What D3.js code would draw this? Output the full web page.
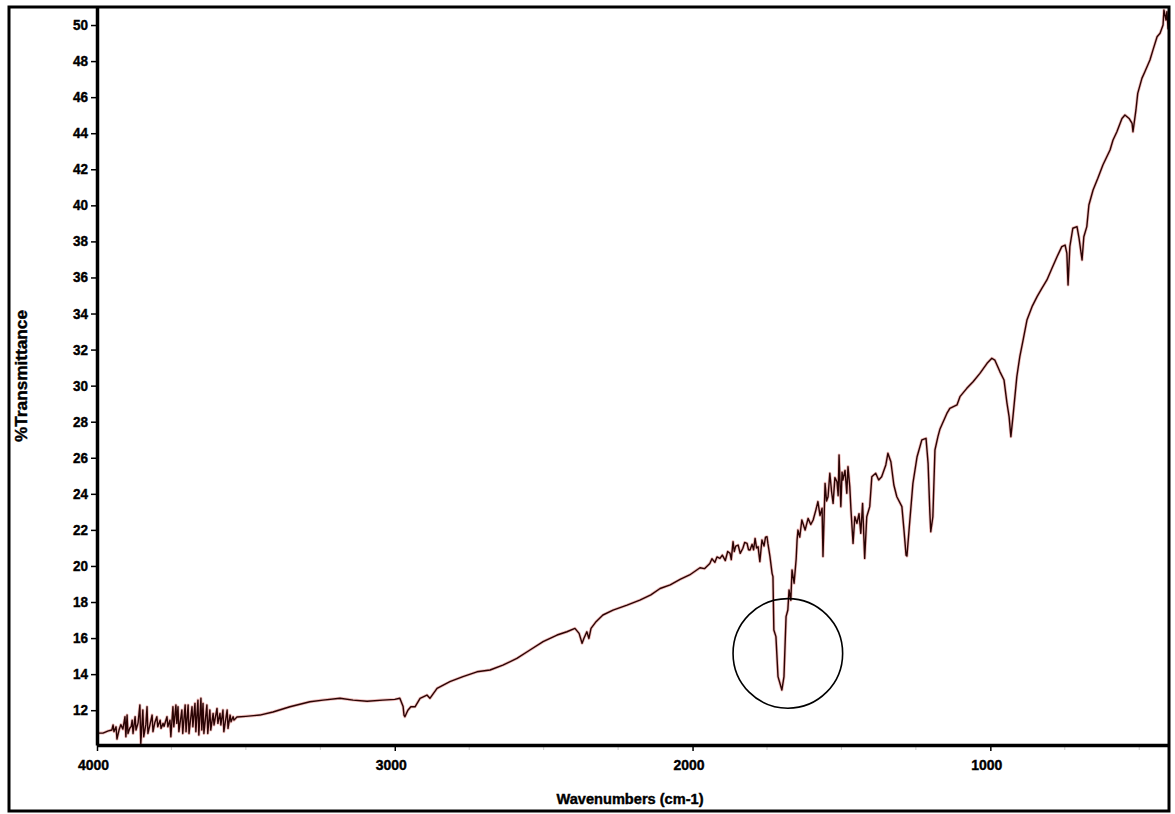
<!DOCTYPE html>
<html>

<head>
    <title>IR Spectrum</title>
    <script src="https://d3js.org/d3.v7.min.js"></script>
    <style>
        body {
            margin: 0;
            background: #fff;
        }

        .axis text {
            font-family: "Liberation Sans", Arial, sans-serif;
            font-weight: bold;
            font-size: 14px;
            fill: #000;
            stroke: #000;
            stroke-width: 0.4px;
        }

        .axis-title {
            font-family: "Liberation Sans", Arial, sans-serif;
            font-weight: bold;
            fill: #000;
            stroke: #000;
            stroke-width: 0.4px;
        }
    </style>
</head>

<body>
    <div id="graph"></div>
    <script>
        // spectrum: [wavenumber cm-1, %T], high wavenumber first
        const spectrum = [
            [4000, 10.73], [3980, 10.73], [3962, 10.85], [3950, 10.90], [3946, 11.18], [3943, 10.81],
            [3936, 11.08], [3933, 10.40], [3926, 10.90], [3920, 11.20], [3913, 10.95], [3906, 11.64],
            [3903, 10.53], [3899, 11.73], [3896, 10.71], [3890, 11.00], [3885, 11.10], [3882, 11.45],
            [3879, 10.71], [3872, 11.64], [3869, 10.90], [3862, 11.30], [3856, 12.29], [3853, 10.16],
            [3846, 12.01], [3843, 10.53], [3836, 11.20], [3832, 12.19], [3829, 10.71], [3822, 11.20],
            [3815, 11.73], [3812, 10.81], [3806, 11.30], [3799, 11.64], [3796, 11.08], [3788, 11.45],
            [3785, 10.99], [3778, 11.27], [3775, 11.10], [3765, 11.64], [3762, 11.08], [3755, 11.45],
            [3752, 10.53], [3745, 12.19], [3742, 11.08], [3735, 12.29], [3732, 11.27], [3728, 12.19],
            [3725, 10.81], [3715, 12.01], [3712, 10.71], [3704, 12.29], [3701, 10.81], [3694, 12.29],
            [3691, 10.71], [3681, 12.19], [3678, 11.08], [3671, 12.38], [3668, 10.81], [3661, 12.56],
            [3658, 10.62], [3651, 12.66], [3648, 10.90], [3644, 12.38], [3641, 10.71], [3631, 12.29],
            [3628, 10.71], [3621, 12.01], [3618, 10.90], [3610, 11.82], [3607, 11.18], [3597, 12.10],
            [3594, 11.27], [3587, 11.82], [3584, 11.18], [3577, 12.01], [3574, 10.81], [3563, 12.01],
            [3560, 10.99], [3553, 11.73], [3550, 11.36], [3543, 11.64], [3540, 11.45], [3530, 11.62],
            [3500, 11.66], [3453, 11.73], [3409, 11.90], [3352, 12.19], [3285, 12.47], [3241, 12.56],
            [3184, 12.66], [3140, 12.56], [3093, 12.50], [3040, 12.56], [3000, 12.60], [2983, 12.66],
            [2972, 12.20], [2969, 11.73], [2966, 11.64], [2956, 12.00], [2946, 12.19], [2932, 12.19],
            [2915, 12.66], [2892, 12.84], [2882, 12.66], [2858, 13.21], [2815, 13.58], [2771, 13.86],
            [2724, 14.13], [2680, 14.23], [2637, 14.50], [2590, 14.87], [2546, 15.34], [2502, 15.80],
            [2455, 16.17], [2422, 16.35], [2395, 16.54], [2381, 16.26], [2371, 15.71], [2365, 15.98],
            [2355, 16.35], [2348, 15.98], [2341, 16.54], [2324, 16.91], [2301, 17.28], [2267, 17.55],
            [2220, 17.83], [2177, 18.11], [2140, 18.40], [2109, 18.75], [2075, 18.95], [2042, 19.25],
            [2010, 19.50], [1975, 19.90], [1960, 19.85], [1942, 20.14], [1935, 20.40], [1925, 20.20],
            [1918, 20.50], [1908, 20.42], [1900, 20.60], [1890, 20.30], [1882, 20.80], [1874, 20.70],
            [1870, 20.35], [1864, 21.35], [1860, 20.80], [1855, 21.10], [1847, 21.16], [1840, 20.70],
            [1831, 20.98], [1825, 21.30], [1817, 21.25], [1812, 20.90], [1807, 20.88], [1800, 21.20],
            [1795, 20.90], [1790, 21.53], [1785, 21.00], [1780, 21.07], [1774, 20.24], [1767, 21.44],
            [1760, 21.10], [1755, 21.60], [1750, 21.62], [1747, 21.25], [1740, 20.52], [1733, 19.59],
            [1730, 19.41], [1727, 16.45], [1720, 16.08], [1713, 13.86], [1700, 13.12], [1693, 13.86],
            [1686, 17.19], [1680, 17.56], [1676, 18.67], [1670, 18.10], [1666, 19.78], [1659, 19.04],
            [1652, 20.40], [1649, 21.44], [1646, 21.99], [1640, 21.60], [1633, 22.55], [1622, 21.99],
            [1612, 22.64], [1603, 22.30], [1595, 22.55], [1586, 23.10], [1579, 23.57], [1572, 22.80],
            [1565, 23.20], [1562, 20.52], [1555, 24.58], [1550, 23.60], [1545, 23.84], [1539, 25.14],
            [1533, 24.10], [1528, 23.47], [1522, 24.90], [1515, 24.67], [1511, 23.90], [1508, 26.15],
            [1502, 23.29], [1498, 25.20], [1495, 24.77], [1488, 25.30], [1482, 24.03], [1478, 25.51],
            [1472, 24.40], [1468, 23.10], [1461, 21.25], [1455, 22.73], [1448, 22.36], [1441, 22.90],
            [1435, 21.81], [1429, 23.47], [1422, 20.42], [1415, 22.73], [1405, 23.29], [1398, 24.95],
            [1385, 25.14], [1375, 24.77], [1365, 24.95], [1351, 25.60], [1344, 26.25], [1334, 25.78],
            [1324, 24.49], [1314, 23.84], [1297, 23.29], [1290, 21.99], [1283, 20.60], [1280, 20.55],
            [1273, 21.99], [1260, 24.58], [1246, 26.06], [1230, 26.99], [1216, 27.08], [1209, 25.69],
            [1203, 22.92], [1200, 21.90], [1193, 22.73], [1186, 26.43], [1176, 27.17], [1169, 27.60],
            [1146, 28.46], [1136, 28.74], [1112, 28.93], [1102, 29.39], [1079, 29.85], [1058, 30.22],
            [1035, 30.68], [1011, 31.24], [995, 31.52], [985, 31.42], [968, 30.78], [954, 30.31],
            [944, 29.02], [937, 28.28], [931, 27.17], [924, 28.28], [911, 30.50], [901, 31.61],
            [890, 32.53], [877, 33.64], [860, 34.38], [843, 34.94], [827, 35.40], [810, 35.86],
            [793, 36.51], [776, 37.15], [760, 37.71], [749, 37.80], [743, 37.34], [739, 35.58],
            [733, 37.71], [723, 38.73], [709, 38.82], [702, 38.17], [692, 36.97], [686, 38.26],
            [676, 38.82], [669, 40.02], [655, 40.85], [639, 41.50], [622, 42.24], [598, 43.07],
            [588, 43.62], [575, 44.08], [558, 44.82], [548, 45.01], [534, 44.82], [524, 44.55],
            [521, 44.08], [511, 45.29], [505, 46.21], [491, 47.04], [481, 47.41], [464, 48.06],
            [454, 48.61], [440, 49.35], [430, 49.54], [420, 50.00], [417, 50.83], [410, 50.28],
            [407, 50.74], [403, 49.80], [400, 50.20]
        ];

        const xTicks = [4000, 3000, 2000, 1000];
        const xMinorTicks = [3750, 3500, 3250, 2750, 2500, 2250, 1750, 1500, 1250, 750, 500];
        const yTicks = [12, 14, 16, 18, 20, 22, 24, 26, 28, 30, 32, 34, 36, 38, 40, 42, 44, 46, 48, 50];
        const xDomain = [4000, 400];
        const yDomain = [10.07, 51.0];

        // the hand-drawn circle around the carbonyl band
        const circleCenter = { wn: 1680, t: 15.15 };
        const circleRadiusWn = 184;

        const W = 1175, H = 814;
        const plot = { left: 97, right: 1169, top: 7, bottom: 745 };

        const x = d3.scaleLinear().domain(xDomain).range([plot.left, plot.right]);
        const y = d3.scaleLinear().domain(yDomain).range([plot.bottom, plot.top]);

        const svg = d3.select("#graph").append("svg")
            .attr("width", W)
            .attr("height", H)
            .style("display", "block");

        svg.append("rect")
            .attr("width", W)
            .attr("height", H)
            .attr("fill", "#fff");

        svg.append("clipPath")
            .attr("id", "clip")
            .append("rect")
            .attr("x", plot.left)
            .attr("y", plot.top)
            .attr("width", plot.right - plot.left)
            .attr("height", plot.bottom - plot.top);

        const data = spectrum.map(d => ({ w: d[0], t: d[1] }));

        const line = d3.line()
            .x(d => x(d.w))
            .y(d => y(d.t));

        const g = svg.append("g").attr("clip-path", "url(#clip)");

        // reddish halo under the trace, like the scanned original
        g.append("path")
            .datum(data)
            .attr("fill", "none")
            .attr("stroke", "#d0403a")
            .attr("stroke-opacity", 0.35)
            .attr("stroke-width", 3)
            .attr("stroke-linejoin", "round")
            .attr("d", line);

        g.append("path")
            .datum(data)
            .attr("fill", "none")
            .attr("stroke", "#2a0404")
            .attr("stroke-width", 1.4)
            .attr("stroke-linejoin", "round")
            .attr("d", line);

        // circle annotation
        svg.append("circle")
            .attr("cx", x(circleCenter.wn))
            .attr("cy", y(circleCenter.t))
            .attr("r", Math.abs(x(circleCenter.wn - circleRadiusWn) - x(circleCenter.wn)))
            .attr("fill", "none")
            .attr("stroke", "#000")
            .attr("stroke-width", 1.6);

        // minor ticks, very faint
        svg.append("g")
            .selectAll("line")
            .data(xMinorTicks)
            .enter().append("line")
            .attr("x1", d => x(d))
            .attr("x2", d => x(d))
            .attr("y1", plot.bottom)
            .attr("y2", plot.bottom + 5)
            .attr("stroke", "#ccc");

        const yAxis = svg.append("g")
            .attr("class", "axis")
            .attr("transform", "translate(" + plot.left + ",0)")
            .call(d3.axisLeft(y).tickValues(yTicks).tickSize(6).tickSizeOuter(0).tickPadding(3));
        yAxis.selectAll(".tick text").attr("textLength", 15).attr("lengthAdjust", "spacingAndGlyphs");

        const xAxis = svg.append("g")
            .attr("class", "axis")
            .attr("transform", "translate(0," + plot.bottom + ")")
            .call(d3.axisBottom(x).tickValues(xTicks).tickFormat(d3.format("d"))
                .tickSize(6).tickSizeOuter(0).tickPadding(9));
        xAxis.selectAll(".tick text")
            .attr("dx", -4)
            .attr("textLength", 31)
            .attr("lengthAdjust", "spacingAndGlyphs");

        svg.selectAll(".axis .domain").attr("stroke-width", 3.5);
        svg.selectAll(".axis .tick line").attr("stroke-width", 1.5);

        // outer frame; plot's top and right edges sit on it
        svg.append("rect")
            .attr("x", 9)
            .attr("y", 7)
            .attr("width", plot.right - 9)
            .attr("height", 804)
            .attr("fill", "none")
            .attr("stroke", "#000")
            .attr("stroke-width", 3);

        svg.append("text")
            .attr("class", "axis-title")
            .attr("x", 630)
            .attr("y", 804)
            .attr("text-anchor", "middle")
            .attr("font-size", 14)
            .attr("textLength", 147)
            .attr("lengthAdjust", "spacingAndGlyphs")
            .text("Wavenumbers (cm-1)");

        svg.append("text")
            .attr("class", "axis-title")
            .attr("transform", "translate(27,376) rotate(-90)")
            .attr("text-anchor", "middle")
            .attr("font-size", 16)
            .attr("textLength", 132)
            .attr("lengthAdjust", "spacingAndGlyphs")
            .text("%Transmittance");
    </script>
</body>

</html>
